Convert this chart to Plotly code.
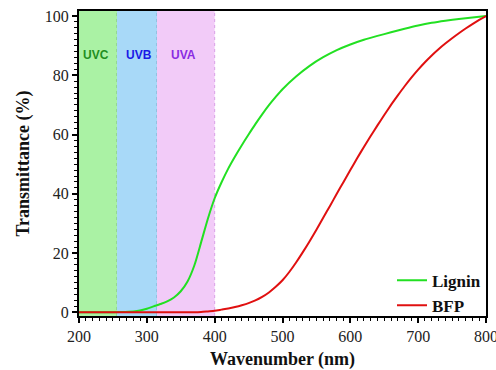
import plotly.graph_objects as go

wavelength = [200, 220, 240, 260, 280, 290, 300, 310, 320, 330, 340, 350, 360, 370, 380, 390,
              400, 410, 420, 430, 440, 450, 460, 470, 480, 490, 500, 520, 540, 560, 580, 600,
              620, 640, 660, 680, 700, 720, 740, 760, 780, 800]
lignin = [0.0, 0.0, 0.0, 0.1, 0.3, 0.6, 1.2, 2.0, 2.8, 3.7, 5.0, 7.1, 10.4, 15.8, 23.6, 31.6,
          38.5, 43.8, 48.5, 52.6, 56.4, 60.0, 63.5, 66.8, 69.9, 72.7, 75.3, 79.6, 83.2, 86.1, 88.5, 90.4,
          92.0, 93.3, 94.5, 95.7, 96.8, 97.7, 98.4, 99.0, 99.5, 100.0]

wl_bfp = [200, 250, 300, 350, 370, 380, 390, 400, 410, 420, 430, 440, 450, 460, 470, 480, 490,
          500, 510, 520, 530, 540, 550, 560, 570, 580, 590, 600, 610, 620, 630, 640, 650, 660,
          670, 680, 690, 700, 710, 720, 730, 740, 750, 760, 770, 780, 790, 800]
bfp = [0.0, 0.0, 0.0, 0.0, 0.0, 0.1, 0.3, 0.5, 0.9, 1.3, 1.8, 2.4, 3.1, 4.0, 5.2, 6.7, 8.6,
       10.8, 13.6, 16.8, 20.3, 24.0, 27.9, 31.9, 35.9, 40.0, 44.0, 48.0, 52.0, 55.8, 59.5, 63.1, 66.6, 70.0,
       73.2, 76.3, 79.2, 81.9, 84.4, 86.7, 88.8, 90.7, 92.5, 94.2, 95.8, 97.3, 98.7, 100.0]

band_names = ["UVC", "UVB", "UVA"]
band_start = [200, 256, 315]
band_end = [256, 315, 400]
band_fill = ["#aaf2a4", "#a8d9f8", "#f2cbf8"]
band_edge = ["#7fbf7f", "#7fa8c8", "#d9a0e6"]
band_text_color = ["#1f8f1f", "#1a1ae6", "#8a2be2"]
band_label_x = [225, 289, 354]
band_label_y = 86.8

fig = go.Figure()
fig.add_trace(go.Scatter(x=wavelength, y=lignin, mode="lines", name="<b>Lignin</b>",
                         line=dict(color="#22e022", width=2, shape="spline", smoothing=0.8)))
fig.add_trace(go.Scatter(x=wl_bfp, y=bfp, mode="lines", name="<b>BFP</b>",
                         line=dict(color="#e01010", width=2, shape="spline", smoothing=0.6)))

for i in range(len(band_names)):
    fig.add_shape(type="rect", xref="x", yref="paper", x0=band_start[i], x1=band_end[i],
                  y0=0, y1=1, fillcolor=band_fill[i], line=dict(width=0), layer="below")
    fig.add_shape(type="line", xref="x", yref="paper", x0=band_end[i], x1=band_end[i],
                  y0=0, y1=1, line=dict(color=band_edge[i], width=1, dash="dot"), layer="below")
    fig.add_annotation(x=band_label_x[i], y=band_label_y, text="<b>" + band_names[i] + "</b>",
                       showarrow=False,
                       font=dict(family="Liberation Sans", size=12, color=band_text_color[i]))

axis_font = dict(family="Liberation Serif", size=16, color="#222")
title_font = dict(family="Liberation Serif", size=18, color="#111")

fig.update_layout(
    width=496, height=370,
    margin=dict(l=79, r=10, t=11, b=54),
    paper_bgcolor="white", plot_bgcolor="white",
    showlegend=True,
    legend=dict(x=1, y=-0.025, xanchor="right", yanchor="bottom",
                font=dict(family="Liberation Serif", size=17, color="#111"),
                bgcolor="rgba(0,0,0,0)", itemwidth=30, tracegroupgap=0),
    font=axis_font,
)
fig.update_xaxes(range=[200, 800], dtick=100, tick0=200, showgrid=False, zeroline=False,
                 automargin=False, ticklabeloverflow="allow",
                 showline=True, linecolor="black", linewidth=2, mirror=True,
                 ticks="outside", ticklen=5, tickwidth=1.5, tickcolor="black",
                 minor=dict(dtick=10, ticks="outside", ticklen=3, tickwidth=1, tickcolor="black"),
                 tickfont=axis_font,
                 title=dict(text="<b>Wavenumber (nm)</b>", font=title_font, standoff=16))
fig.update_yaxes(range=[-1.25, 101.7], dtick=20, tick0=0, showgrid=False, zeroline=False,
                 automargin=False, ticklabeloverflow="allow",
                 showline=True, linecolor="black", linewidth=2, mirror=True,
                 ticks="outside", ticklen=5, tickwidth=1.5, tickcolor="black",
                 minor=dict(dtick=2, ticks="outside", ticklen=3, tickwidth=1, tickcolor="black"),
                 tickfont=axis_font,
                 title=dict(text="<b>Transmittance (%)</b>", font=title_font, standoff=10))

fig.write_html("out.html", config={"displayModeBar": False})
with open("out.html", "r", encoding="utf-8") as f:
    html = f.read()
html = html.replace("<head>", "<head><style>html,body{margin:0;padding:0;overflow:hidden;}</style>", 1)
with open("out.html", "w", encoding="utf-8") as f:
    f.write(html)
